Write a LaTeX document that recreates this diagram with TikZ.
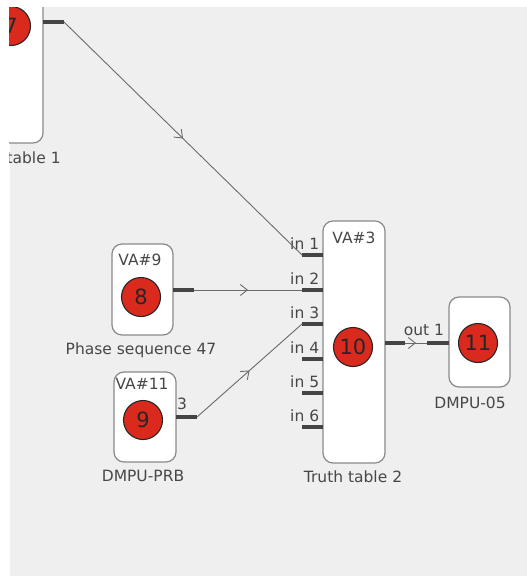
\documentclass[tikz,border=0pt]{standalone}
\usepackage{fontspec}
\setmainfont{DejaVu Sans}
\usetikzlibrary{arrows.meta,decorations.markings}
\definecolor{bg}{HTML}{EFEFEF}
\definecolor{boxline}{HTML}{8A8A8A}
\definecolor{redc}{HTML}{DA2A1E}
\definecolor{txt}{HTML}{474747}
\definecolor{wire}{HTML}{6A6A6A}
\definecolor{stubc}{HTML}{444444}
\begin{document}
\begin{tikzpicture}[x=1pt,y=-1pt,
  blk/.style={draw=boxline, line width=1.2pt, fill=white, rounded corners=10pt},
  num/.style={circle, draw=black!85, line width=1.1pt, fill=redc, minimum size=39pt, inner sep=0pt, font=\fontsize{21}{21}\selectfont, text=black!85},
  lbl/.style={font=\fontsize{15.5}{15.5}\selectfont, text=txt, inner sep=0pt},
  stub/.style={line width=3.5pt, draw=stubc},
  wirestyle/.style={draw=wire, line width=0.9pt, postaction={decorate},
    decoration={markings, mark=at position 0.5 with {\arrow{Straight Barb[length=7pt,width=11pt,line width=0.9pt]}}}}
]
\useasboundingbox (0,0) rectangle (527,576);
\fill[white] (0,0) rectangle (527,576);
\fill[bg] (10,7) rectangle (527,576);
\begin{scope}
\clip (9,7) rectangle (527,576);
% node 7 (Truth table 1), partly outside
\draw[blk] (-20,-80) rectangle (43,143);
\node[num] (c7) at (11,26) {7};
\node[lbl] (t7) at (11.5,158) {Truth table 1};
\coordinate (o7a) at (43,22);
\coordinate (o7) at (64,22);
% node 8
\draw[blk] (112,244) rectangle (173,335);
\node[lbl] (v8) at (140,260) {VA\#9};
\node[num] (c8) at (141,297) {8};
\node[lbl] (t8) at (141,350) {Phase sequence 47};
\coordinate (o8a) at (173,290);
\coordinate (o8) at (194,290);
% node 9
\draw[blk] (114,372) rectangle (176,462);
\node[lbl] (v9) at (142,384) {VA\#11};
\node[num] (c9) at (143,420) {9};
\node[lbl] (t9) at (143,476) {DMPU-PRB};
\node[lbl] (p9) at (182,404) {3};
\coordinate (o9a) at (176,417);
\coordinate (o9) at (197,417);
% node 10
\draw[blk] (323,221) rectangle (385,463);
\node[lbl] (v10) at (354,238) {VA\#3};
\node[num] (c10) at (353,347) {10};
\node[lbl] (t10) at (353,477) {Truth table 2};
\foreach \i/\yy in {1/255,2/290,3/324,4/359,5/393,6/427}{
  \coordinate (i\i) at (302,\yy);
  \coordinate (i\i b) at (323,\yy);
  \node[lbl, anchor=west] (li\i) at (290,\yy-11) {in \i};
  \draw[stub] (i\i) -- (i\i b);
}
\coordinate (o10a) at (385,343);
\coordinate (o10) at (405,343);
\node[lbl] (lo10) at (424,330) {out 1};
% node 11
\draw[blk] (449,297) rectangle (510,387);
\node[num] (c11) at (478,343) {11};
\node[lbl] (t11) at (470,403) {DMPU-05};
\coordinate (i11) at (427,343);
\coordinate (i11b) at (449,343);
% stubs
\draw[stub] (o7a) -- (o7);
\draw[stub] (o8a) -- (o8);
\draw[stub] (o9a) -- (o9);
\draw[stub] (o10a) -- (o10);
\draw[stub] (i11) -- (i11b);
% wires
\draw[wirestyle] (o7) -- (i1);
\draw[wirestyle] (o8) -- (i2);
\draw[wirestyle] (o9) -- (i3);
\draw[wirestyle] (o10) -- (i11);
\end{scope}
\end{tikzpicture}
\end{document}
